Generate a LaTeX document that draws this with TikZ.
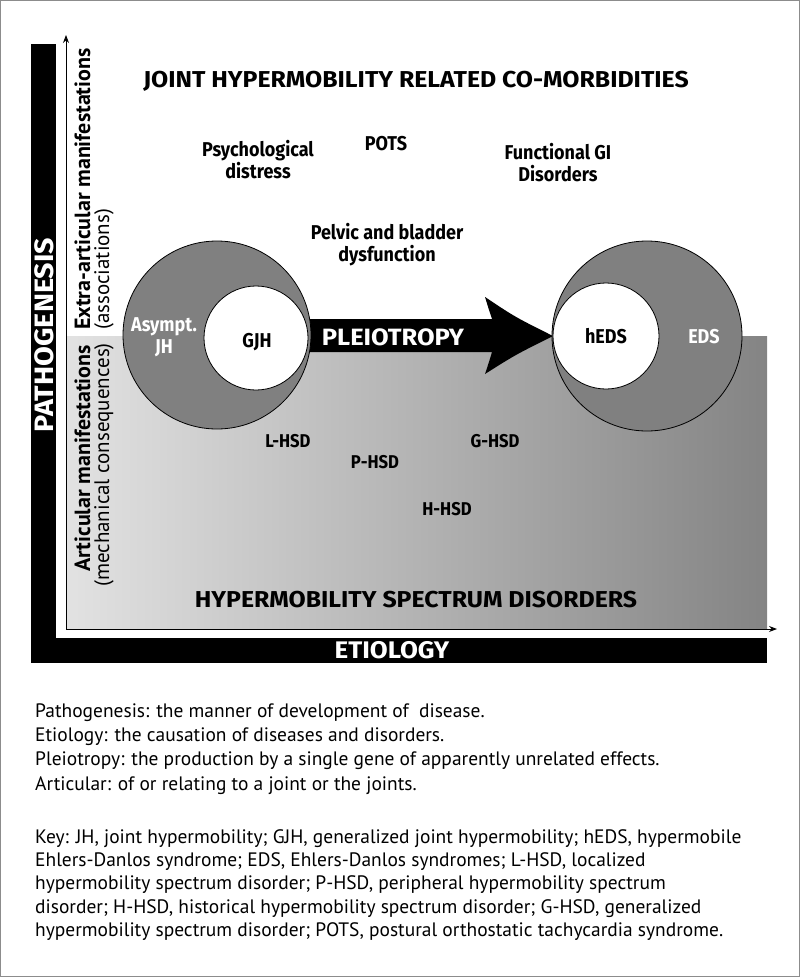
\documentclass[tikz,border=0pt]{standalone}
\usepackage{fontspec}
\setmainfont{PT Sans}
\newfontfamily\dinfont[FakeStretch=0.9]{Fira Sans}
\newfontfamily\capfont[FakeStretch=1.08]{Fira Sans}
\newfontfamily\humfont{PT Sans}
\usetikzlibrary{arrows.meta}
\definecolor{midgray}{RGB}{128,128,128}
\definecolor{framegray}{RGB}{140,140,140}
\definecolor{gradL}{RGB}{226,226,226}
\definecolor{gradR}{RGB}{132,132,132}
\begin{document}
\begin{tikzpicture}[x=1pt,y=-1pt,
  axis/.style={line width=0.9pt,-{Stealth[length=8pt,width=6pt]}},
  outerc/.style={circle,draw=black,line width=0.8pt,fill=midgray,inner sep=0pt},
  innerc/.style={circle,draw=black,line width=0.8pt,fill=white,inner sep=0pt},
  lab/.style={font=\dinfont\bfseries\fontsize{20}{22}\selectfont,align=center,inner sep=0pt},
  hsdlab/.style={font=\dinfont\bfseries\fontsize{18.5}{22}\selectfont,inner sep=0pt},
  wlab/.style={lab,text=white},
  bigcap/.style={font=\capfont\bfseries\fontsize{23}{26}\selectfont,inner sep=0pt},
  barlab/.style={font=\capfont\bfseries\fontsize{24}{28}\selectfont,text=white,inner sep=0pt},
  sidebold/.style={font=\humfont\bfseries\fontsize{22}{24}\selectfont,inner sep=0pt,rotate=90},
  sidenorm/.style={font=\humfont\fontsize{21}{24}\selectfont,inner sep=0pt,rotate=90},
  body/.style={align=left,inner sep=0pt}]
\useasboundingbox (0,0) rectangle (800,977);
\draw[framegray,line width=1.2pt] (0.6,0.6) rectangle (799.4,976.4);
% black L bars
\fill[black] (31,44) rectangle (56,663);
\fill[black] (31,638) rectangle (767,663);
% gradient region
\shade[left color=gradL,right color=gradR] (66,336) rectangle (767,629);
% axes
\coordinate (origin) at (66,629);
\coordinate (ytip) at (66,35);
\coordinate (xtip) at (777,629);
\draw[axis] (origin) -- (ytip);
\draw[axis] (origin) -- (xtip);
% pleiotropy arrow
\fill[black] (300,319) -- (492,319) .. controls (489,310) .. (485,297)
  .. controls (515,317) .. (553,336) .. controls (515,355) .. (485,374)
  .. controls (489,362) .. (492,352) -- (300,352) -- cycle;
% circles
\node[outerc,minimum size=188pt] (jh) at (217,335) {};
\node[innerc,minimum size=104pt] (gjh) at (256,338) {};
\node[outerc,minimum size=190pt] (eds) at (647,336) {};
\node[innerc,minimum size=106pt] (heds) at (606,336) {};
% labels
\node[bigcap,anchor=base] (title) at (416,87) {JOINT HYPERMOBILITY RELATED CO-MORBIDITIES};
\node[lab] (psy) at (258,160) {Psychological\\distress};
\node[lab,anchor=base] (pots) at (386,150) {POTS};
\node[lab] (fgi) at (558,163) {Functional GI\\Disorders};
\node[lab] (pelvic) at (387,245) {Pelvic and bladder\\dysfunction};
\node[wlab] (ajh) at (164,337) {Asympt.\\JH};
\node[lab,anchor=base] (gjhl) at (257,347) {GJH};
\node[wlab,font=\capfont\bfseries\fontsize{23.6}{26}\selectfont,anchor=base] (pleio) at (393,345) {PLEIOTROPY};
\node[lab,anchor=base] (hedsl) at (606,343) {hEDS};
\node[wlab,anchor=base] (edsl) at (704,343) {EDS};
\node[hsdlab,anchor=base] (lhsd) at (288,447) {L-HSD};
\node[hsdlab,anchor=base] (phsd) at (375,468) {P-HSD};
\node[hsdlab,anchor=base] (ghsd) at (495,447) {G-HSD};
\node[hsdlab,anchor=base] (hhsd) at (447,515) {H-HSD};
\node[bigcap,anchor=base] (hsd) at (416,607) {HYPERMOBILITY SPECTRUM DISORDERS};
\node[barlab,anchor=base] (etio) at (392,658) {ETIOLOGY};
\node[barlab,font=\capfont\bfseries\fontsize{26.6}{28}\selectfont,rotate=90,anchor=base] (patho) at (53,335) {PATHOGENESIS};
\node[sidebold,anchor=base west] (extra) at (90,330) {Extra-articular manifestations};
\node[sidenorm,anchor=base west] (assoc) at (109,330) {(associations)};
\node[sidebold,anchor=base east] (artic) at (90,345) {Articular manifestations};
\node[sidenorm,anchor=base east] (mech) at (109,343) {(mechanical consequences)};
% definitions (anchor base = baseline of the last line)
\node[body,font=\fontsize{19.45}{24.3}\selectfont,anchor=base west] (defs) at (35,790) {Pathogenesis: the manner of development of\ \ disease.\\
Etiology: the causation of diseases and disorders.\\
Pleiotropy: the production by a single gene of apparently unrelated effects.\\
Articular: of or relating to a joint or the joints.};
\node[body,font=\fontsize{19.45}{23.4}\selectfont,anchor=base west] (key) at (35,936.6) {Key: JH, joint hypermobility; GJH, generalized joint hypermobility; hEDS, hypermobile\\
Ehlers-Danlos syndrome; EDS, Ehlers-Danlos syndromes; L-HSD, localized\\
hypermobility spectrum disorder; P-HSD, peripheral hypermobility spectrum\\
disorder; H-HSD, historical hypermobility spectrum disorder; G-HSD, generalized\\
hypermobility spectrum disorder; POTS, postural orthostatic tachycardia syndrome.};
\end{tikzpicture}
\end{document}
